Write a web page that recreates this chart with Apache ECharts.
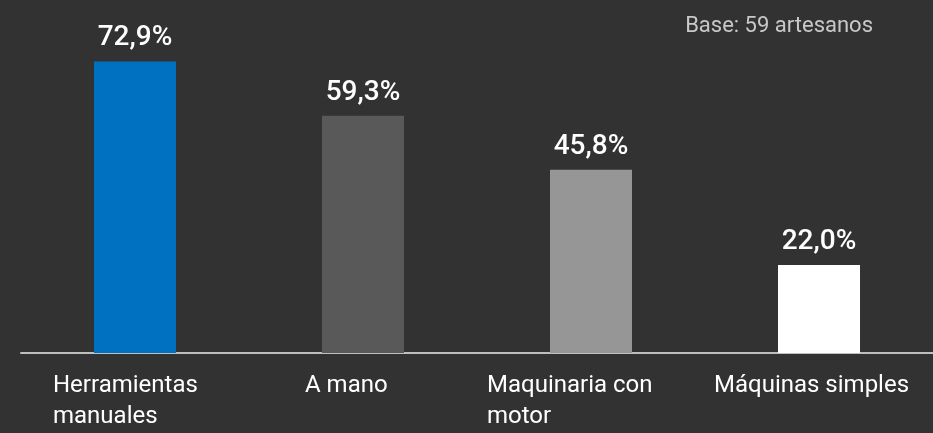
<!doctype html>
<html lang="es">
<head>
<meta charset="UTF-8"/>
<title>Herramientas de trabajo</title>
<script src="https://cdn.jsdelivr.net/npm/echarts@6/dist/echarts.min.js"></script>
<style>
html,body{margin:0;padding:0;background:#323232;}
#chart{width:933px;height:433px;}
</style>
</head>
<body>
<div id="chart"></div>
<script>
// datos
var categorias = ['Herramientas\nmanuales', 'A mano', 'Maquinaria con\nmotor', 'Máquinas simples'];
var valores = [72.9, 59.3, 45.8, 22.0];
var colores = ['#0070C0', '#595959', '#969696', '#FFFFFF'];
var nota = 'Base: 59 artesanos';

// ancho de caja de cada etiqueta (texto alineado a la izquierda dentro)
var anchos = [164, 116, 208, 210];

var myChart = echarts.init(document.getElementById('chart'));

var rich = {};
anchos.forEach(function (w, i) {
    rich['c' + i] = { width: w, align: 'left', color: '#FFFFFF', fontSize: 24, lineHeight: 31, fontFamily: 'Roboto' };
});

option = {
    backgroundColor: '#323232',
    animation: false,
    title: {
        text: nota,
        right: 55,
        top: 10,
        textStyle: { color: '#C8C8C8', fontSize: 22, fontWeight: 'normal', fontFamily: 'Roboto' }
    },
    grid: { left: 21, right: -4, top: 33, bottom: 80, containLabel: false },
    xAxis: {
        type: 'category',
        data: categorias,
        axisTick: { show: false },
        axisLine: { lineStyle: { color: '#BFBFBF', width: 2 } },
        axisLabel: {
            margin: 17,
            interval: 0,
            formatter: function (v, i) {
                return v.split('\n').map(function (l) { return '{c' + i + '|' + l + '}'; }).join('\n');
            },
            rich: rich
        }
    },
    yAxis: {
        type: 'value',
        min: 0,
        max: 80,
        show: false,
        splitLine: { show: false }
    },
    series: [{
        type: 'bar',
        barWidth: 82,
        data: valores.map(function (v, i) {
            return { value: v, itemStyle: { color: colores[i] } };
        }),
        label: {
            show: true,
            position: 'top',
            distance: 9,
            color: '#FFFFFF',
            fontSize: 28,
            fontWeight: 500,
            fontFamily: 'Roboto',
            formatter: function (p) { return p.value.toFixed(1).replace('.', ',') + '%'; }
        }
    }]
};

myChart.setOption(option);
</script>
</body>
</html>
